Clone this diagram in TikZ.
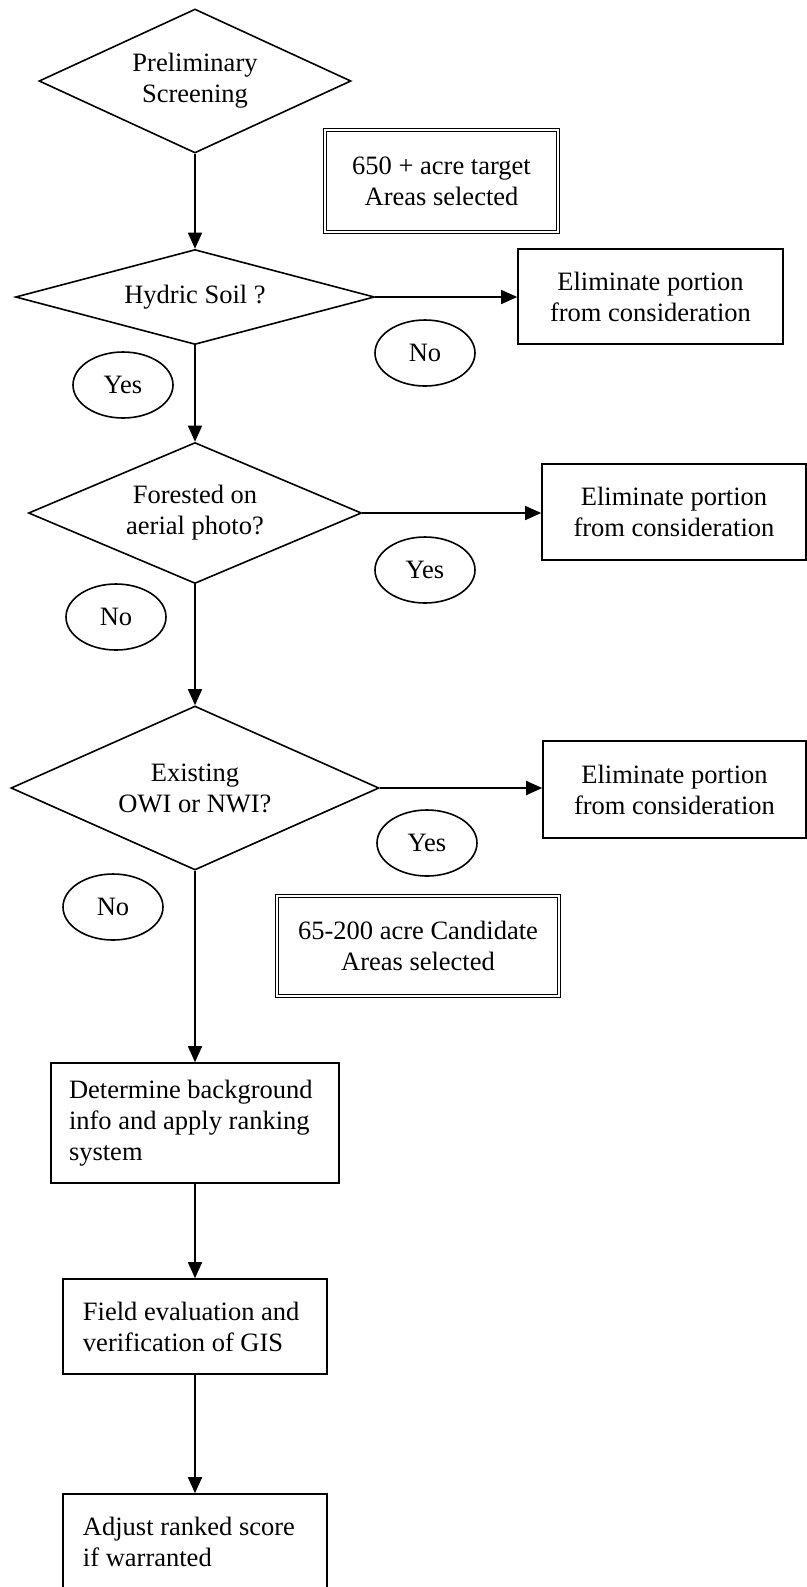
\documentclass[tikz,border=0pt]{standalone}
\usepackage{fontspec}
\setmainfont{Liberation Serif}
\usetikzlibrary{shapes.geometric,arrows.meta}
\tikzset{
  base/.style={draw=black, line width=0.8pt, inner sep=0pt, align=center},
  decision/.style={base, shape=diamond},
  plainbox/.style={base, rectangle},
  dblbox/.style={rectangle, draw=black, line width=0.5pt, double, double distance=1.3pt, inner sep=0pt, align=center},
  stepbox/.style={base, rectangle, align=flush left, inner xsep=10pt},
  answer/.style={base, ellipse, minimum width=50pt, minimum height=33pt},
  flow/.style={line width=0.8pt, -{Triangle[length=8pt,width=7pt]}}
}
\begin{document}
\begin{tikzpicture}[x=0.5pt,y=-0.5pt,font=\fontsize{13.25pt}{15.5pt}\selectfont]
\clip (0,0) rectangle (807,1587);
\fill[white] (0,0) rectangle (807,1587);

\node[decision, aspect=2.2, minimum width=156pt, minimum height=72pt] (d1) at (195,81) {Preliminary\\Screening};
\node[dblbox, minimum width=116.5pt, minimum height=51pt] (t650) at (441.5,181) {650 + acre target\\Areas selected};

\node[decision, aspect=3.8, minimum width=179.5pt, minimum height=47.5pt] (d2) at (195,297) {Hydric Soil ?};
\node[plainbox, minimum width=132.5pt, minimum height=47.5pt] (e1) at (650.5,296.5) {Eliminate portion\\from consideration};
\node[answer] (no1) at (425,353) {No};
\node[answer] (yes1) at (123,385) {Yes};

\node[decision, aspect=2.36, minimum width=166.5pt, minimum height=70.5pt] (d3) at (195,513) {Forested on\\aerial photo?};
\node[plainbox, minimum width=132pt, minimum height=48pt] (e2) at (674,512) {Eliminate portion\\from consideration};
\node[answer] (yes2) at (425,570) {Yes};
\node[answer] (no2) at (116,617) {No};

\node[decision, aspect=2.24, minimum width=184pt, minimum height=82pt] (d4) at (195,788) {Existing\\OWI or NWI?};
\node[plainbox, minimum width=131.5pt, minimum height=48.5pt] (e3) at (674.5,789.5) {Eliminate portion\\from consideration};
\node[answer] (yes3) at (427,843) {Yes};
\node[answer] (no3) at (113,907) {No};
\node[dblbox, minimum width=141pt, minimum height=50pt] (t65) at (418,946) {65-200 acre Candidate\\Areas selected};

\node[stepbox, inner xsep=9pt, text width=126pt, minimum height=60pt] (s1) at (195,1123) {Determine background\\info and apply ranking\\system};
\node[stepbox, text width=112pt, minimum height=47.5pt] (s2) at (195,1326.5) {Field evaluation and\\verification of GIS};
\node[stepbox, text width=112pt, minimum height=47.5pt] (s3) at (195,1541.5) {Adjust ranked score\\if warranted};

\draw[flow] (d1.south) -- (d2.north);
\draw[flow] (d2.south) -- (d3.north);
\draw[flow] (d3.south) -- (d4.north);
\draw[flow] (d4.south) -- (s1.north);
\draw[flow] (s1.south) -- (s2.north);
\draw[flow] (s2.south) -- (s3.north);
\draw[flow] (d2.east) -- (d2.east -| e1.west);
\draw[flow] (d3.east) -- (d3.east -| e2.west);
\draw[flow] (d4.east) -- (d4.east -| e3.west);
\end{tikzpicture}
\end{document}
